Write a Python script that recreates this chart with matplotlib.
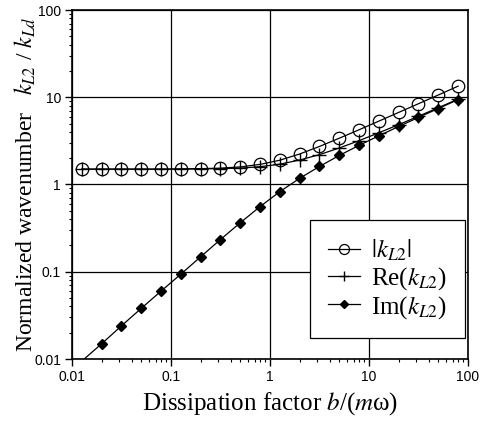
import matplotlib
matplotlib.use("Agg")
import matplotlib.pyplot as plt
from matplotlib.ticker import LogLocator, FixedLocator, FixedFormatter, NullFormatter

# ---- data ----
b_factor = [0.0126, 0.02, 0.0316, 0.05, 0.0794, 0.126, 0.2, 0.316, 0.5, 0.794,
            1.26, 2.0, 3.16, 5.0, 7.94, 12.6, 20.0, 31.6, 50.0, 79.4]
k_abs = [1.50, 1.50, 1.50, 1.50, 1.50, 1.51, 1.52, 1.54, 1.59, 1.70,
         1.90, 2.24, 2.73, 3.39, 4.24, 5.33, 6.71, 8.43, 10.6, 13.4]
k_re = [1.50, 1.50, 1.50, 1.50, 1.50, 1.50, 1.51, 1.52, 1.54, 1.60,
        1.71, 1.91, 2.20, 2.62, 3.18, 3.92, 4.86, 6.06, 7.58, 9.51]
k_im = [0.0095, 0.015, 0.024, 0.038, 0.060, 0.094, 0.149, 0.234, 0.364, 0.558,
        0.83, 1.18, 1.61, 2.15, 2.81, 3.62, 4.63, 5.87, 7.43, 9.39]
tick_values = [0.01, 0.1, 1, 10, 100]
tick_labels = ["0.01", "0.1", "1", "10", "100"]
series_labels = [r"$|k_{L2}|$", r"Re($k_{L2}$)", r"Im($k_{L2}$)"]

plt.rcParams["mathtext.fontset"] = "stix"
plt.rcParams["font.family"] = ["Liberation Serif", "DejaVu Serif"]

fig = plt.figure(figsize=(4.91, 4.23), dpi=100)
ax = fig.add_axes([72 / 491, 1 - 359 / 423, (468 - 72) / 491, (359 - 10) / 423])

lw = 0.9
ax.plot(b_factor, k_abs, color="black", lw=lw, marker="o", ms=9,
        mfc="none", mec="black", mew=0.9, label=series_labels[0], zorder=3)
ax.plot(b_factor, k_re, color="black", lw=lw, marker="+", ms=9.5,
        mew=1.0, label=series_labels[1], zorder=4)
ax.plot(b_factor, k_im, color="black", lw=lw, marker="D", ms=5.5,
        mfc="black", mec="black", markevery=slice(1, None),
        label=series_labels[2], zorder=4)

ax.set_xscale("log")
ax.set_yscale("log")
ax.set_xlim(0.01, 100)
ax.set_ylim(0.01, 100)

for axis in (ax.xaxis, ax.yaxis):
    axis.set_major_locator(FixedLocator(tick_values))
    axis.set_major_formatter(FixedFormatter(tick_labels))
    axis.set_minor_locator(LogLocator(base=10, subs=range(2, 10), numticks=20))
    axis.set_minor_formatter(NullFormatter())

ax.tick_params(which="major", direction="out", length=5, width=1.0,
               labelsize=10, pad=3)
ax.tick_params(which="minor", direction="out", length=2.5, width=0.8)
for lab in ax.get_xticklabels() + ax.get_yticklabels():
    lab.set_fontfamily("Liberation Sans")

ax.grid(True, which="major", color="black", lw=0.9)
for sp in ax.spines.values():
    sp.set_linewidth(1.2)

ax.set_xlabel(r"Dissipation factor $b$/($m$ω)", fontsize=18, labelpad=4)
ax.set_ylabel(r"Normalized wavenumber   $k_{L2}$ / $k_{Ld}$", fontsize=17)
ax.yaxis.set_label_coords(-0.085, 0.5)

leg = ax.legend(loc="lower right", bbox_to_anchor=(0.992, 0.06), fontsize=18,
                frameon=True, fancybox=False, framealpha=1, edgecolor="black",
                handlelength=1.3, borderpad=0.7, labelspacing=0.08,
                handletextpad=0.45, borderaxespad=0, markerscale=0.8)
leg.get_frame().set_linewidth(0.9)

fig.savefig("out.png", dpi=100)
